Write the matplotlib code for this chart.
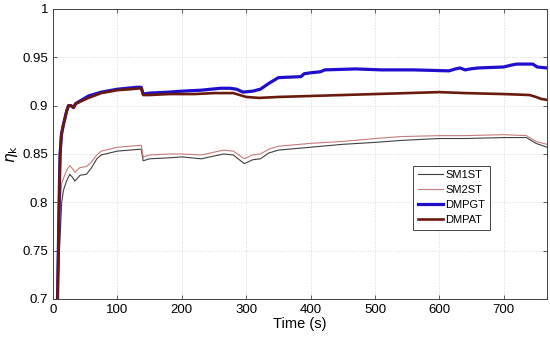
import matplotlib
matplotlib.use('Agg')
import matplotlib.pyplot as plt
from matplotlib.ticker import FormatStrFormatter

plt.rcParams['font.family'] = ['Liberation Sans', 'DejaVu Sans']

# values (time in s, efficiency)
t_sm1 = [7, 10, 13.5, 16, 21, 26, 30, 34, 42, 52, 60, 68, 75, 100, 137, 140, 150, 180, 200, 230,
         265, 280, 297, 310, 322, 335, 350, 400, 450, 500, 540, 600, 640, 700, 735, 750, 767]
sm1 = [0.700, 0.750, 0.800, 0.812, 0.822, 0.829, 0.826, 0.822, 0.828, 0.829, 0.836, 0.845, 0.849,
       0.853, 0.855, 0.843, 0.845, 0.846, 0.847, 0.845, 0.850, 0.849, 0.840, 0.844, 0.845, 0.851,
       0.854, 0.857, 0.860, 0.862, 0.864, 0.866, 0.866, 0.867, 0.867, 0.861, 0.857]

t_sm2 = [7, 9, 11, 13.5, 21, 26, 30, 34, 42, 52, 60, 68, 75, 100, 137, 140, 150, 180, 200, 230,
         265, 280, 297, 310, 322, 335, 350, 400, 450, 500, 540, 600, 640, 700, 735, 750, 767]
sm2 = [0.700, 0.760, 0.800, 0.820, 0.833, 0.838, 0.835, 0.831, 0.836, 0.837, 0.842, 0.849, 0.853,
       0.857, 0.859, 0.847, 0.849, 0.850, 0.850, 0.849, 0.854, 0.853, 0.845, 0.849, 0.850, 0.855,
       0.858, 0.861, 0.863, 0.866, 0.868, 0.869, 0.869, 0.870, 0.869, 0.863, 0.860]

t_dmpgt = [7, 9, 10, 11, 13, 16, 21, 24, 28, 32, 35, 45, 55, 75, 100, 130, 137, 140, 150, 180,
           200, 230, 260, 275, 285, 295, 310, 322, 335, 350, 385, 390, 400, 415, 422, 470, 510,
           560, 615, 625, 632, 640, 648, 660, 700, 712, 720, 745, 752, 767]
dmpgt = [0.700, 0.780, 0.820, 0.850, 0.870, 0.880, 0.894, 0.900, 0.900, 0.898, 0.902, 0.906,
         0.910, 0.914, 0.917, 0.919, 0.919, 0.912, 0.913, 0.914, 0.915, 0.916, 0.918, 0.918,
         0.917, 0.914, 0.915, 0.917, 0.923, 0.929, 0.930, 0.933, 0.934, 0.935, 0.937, 0.938,
         0.937, 0.937, 0.936, 0.938, 0.939, 0.937, 0.938, 0.939, 0.940, 0.942, 0.943, 0.943,
         0.940, 0.939]

t_dmpat = [7, 9, 10, 11, 13, 16, 21, 24, 28, 32, 35, 45, 55, 75, 100, 120, 137, 140, 150, 180,
           220, 250, 280, 290, 300, 320, 350, 400, 450, 500, 550, 600, 640, 700, 740, 750, 758, 767]
dmpat = [0.700, 0.780, 0.820, 0.850, 0.870, 0.880, 0.894, 0.900, 0.900, 0.898, 0.902, 0.905,
         0.908, 0.913, 0.916, 0.917, 0.918, 0.911, 0.911, 0.912, 0.912, 0.913, 0.913, 0.911,
         0.909, 0.908, 0.909, 0.910, 0.911, 0.912, 0.913, 0.914, 0.913, 0.912, 0.911, 0.909,
         0.907, 0.906]

fig = plt.figure(figsize=(5.5, 3.39), dpi=100)
ax = fig.add_axes([0.0964, 0.118, 0.898, 0.8555])

ax.plot(t_sm1, sm1, color='#404040', lw=0.8, label='SM1ST')
ax.plot(t_sm2, sm2, color='#c87a7a', lw=0.8, label='SM2ST')
ax.plot(t_dmpgt, dmpgt, color='#1f0fcc', lw=2.3, label='DMPGT')
ax.plot(t_dmpat, dmpat, color='#6a1a0c', lw=1.9, label='DMPAT')

ax.set_xlim(0, 767)
ax.set_ylim(0.7, 1.0)
ax.set_xticks(range(0, 701, 100))
ax.set_yticks([0.7, 0.75, 0.8, 0.85, 0.9, 0.95, 1.0])
ax.yaxis.set_major_formatter(FormatStrFormatter('%g'))
ax.tick_params(direction='in', top=True, right=True, labelsize=9.5, length=3, width=0.6,
               color='#404040')
ax.grid(True, color='#d8d8d8', ls=':', lw=0.7)
for s in ax.spines.values():
    s.set_color('#404040')
    s.set_linewidth(0.7)

ax.set_xlabel('Time (s)', fontsize=10.5, labelpad=1)
ax.set_ylabel(r'$\eta_\mathrm{k}$', fontsize=11, labelpad=2)

leg = ax.legend(loc='upper left', bbox_to_anchor=(0.729, 0.459),
                fontsize=8, fancybox=False, framealpha=1, edgecolor='#404040',
                handlelength=2.3, handletextpad=0.2, borderpad=0.4, labelspacing=0.45,
                borderaxespad=0)
leg.get_frame().set_linewidth(0.7)

fig.savefig('out.png', dpi=100)
